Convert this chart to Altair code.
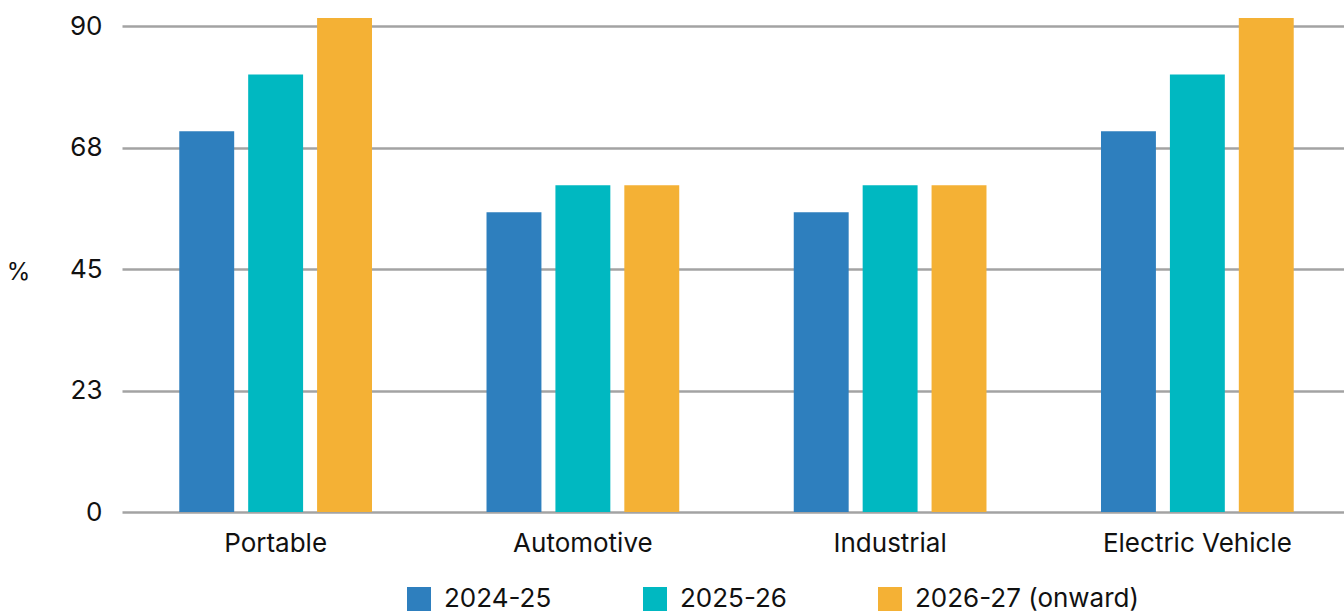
import altair as alt
import pandas as pd

# Battery collection targets by segment (%)
segments = ["Portable", "Automotive", "Industrial", "Electric Vehicle"]
periods = ["2024-25", "2025-26", "2026-27 (onward)"]
target_2024_25 = [70.5, 55.5, 55.5, 70.5]
target_2025_26 = [81.0, 60.5, 60.5, 81.0]
target_2026_27 = [91.5, 60.5, 60.5, 91.5]
colors = ["#2E7FBE", "#00B8C1", "#F4B135"]
y_ticks = [0, 22.5, 45, 67.5, 90]

rows = []
for period, values in zip(periods, [target_2024_25, target_2025_26, target_2026_27]):
    for seg, v in zip(segments, values):
        rows.append({"segment": seg, "period": period, "value": v})
df = pd.DataFrame(rows)

FONT = "Inter"
FS = 26

chart = (
    alt.Chart(df)
    .mark_bar(clip=False)
    .encode(
        x=alt.X(
            "segment:N",
            sort=segments,
            scale=alt.Scale(range=[0, 1229], paddingInner=0.3727, paddingOuter=0.1864),
            axis=alt.Axis(
                title=None, labelAngle=0, domain=False, ticks=False, grid=False,
                labelFontSize=FS, labelPadding=18, labelColor="#111111", labelFont=FONT,
                labelLimit=400,
            ),
        ),
        xOffset=alt.XOffset(
            "period:N", sort=periods,
            scale=alt.Scale(paddingInner=0.203, paddingOuter=0),
        ),
        y=alt.Y(
            "value:Q",
            scale=alt.Scale(domain=[0, 90], nice=False, zero=True),
            axis=alt.Axis(
                values=y_ticks, format=".0f", domain=False, ticks=False,
                grid=True, gridColor="#A3A3A3", gridWidth=2.5,
                labelFontSize=FS, labelPadding=20, labelColor="#111111", labelFont=FONT,
                title="%", titleAngle=0, titleX=-104, titleY=246,
                titleAlign="center", titleBaseline="middle",
                titleFontSize=24, titleFontWeight="normal", titleColor="#111111", titleFont=FONT,
            ),
        ),
        color=alt.Color(
            "period:N",
            sort=periods,
            scale=alt.Scale(domain=periods, range=colors),
            legend=alt.Legend(
                title=None, orient="none", legendX=284, legendY=560,
                direction="horizontal", symbolType="square", symbolSize=576,
                symbolStrokeWidth=0, symbolOpacity=1, labelFontSize=FS,
                labelFont=FONT, labelColor="#111111", labelOffset=12,
                labelLimit=400, columnPadding=90, gridAlign="none",
            ),
        ),
    )
    .properties(
        width=1222,
        height=486,
        autosize=alt.AutoSizeParams(type="none"),
        padding={"left": 122, "top": 26, "right": 0, "bottom": 100},
    )
    .configure(font=FONT)
    .configure_view(strokeWidth=0, strokeOpacity=0)
    .configure_axis(domain=False)
)

chart.save("out.html", embed_options={"renderer": "svg", "actions": False})
